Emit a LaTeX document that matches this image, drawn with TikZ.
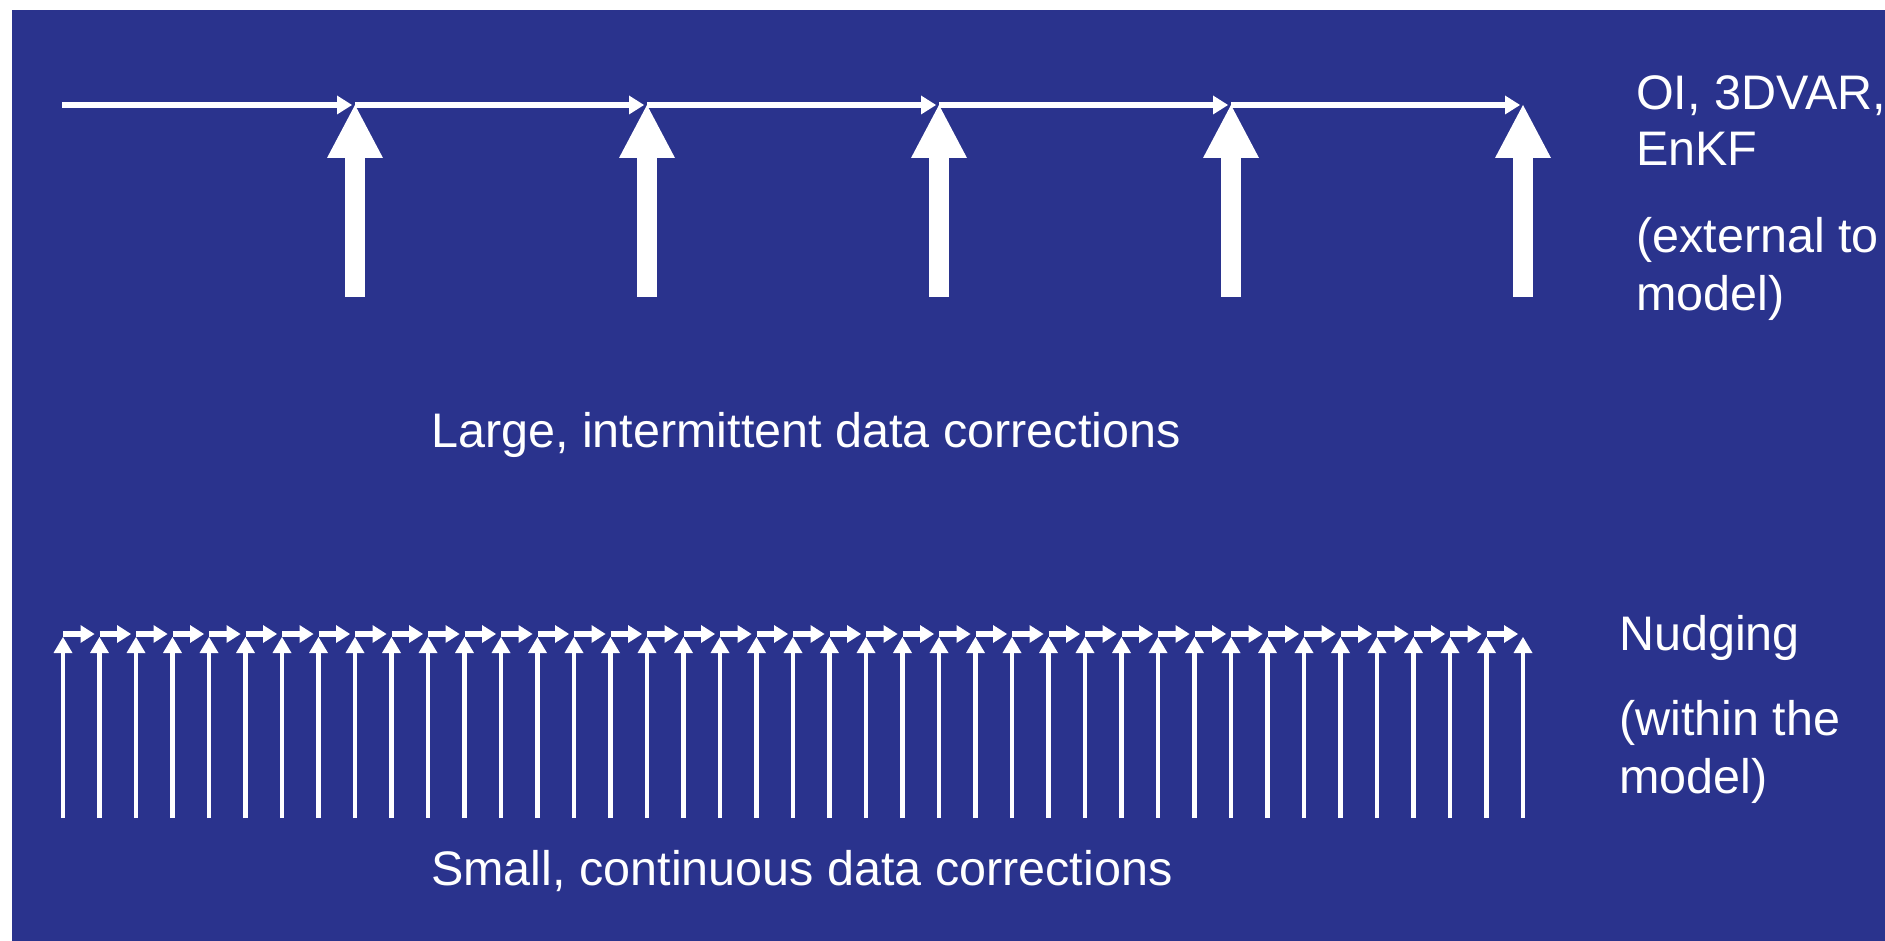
\documentclass[tikz,border=0pt]{standalone}
\usepackage{fontspec}
\setmainfont{Liberation Sans}
\usetikzlibrary{arrows.meta}
\definecolor{bgblue}{RGB}{42,51,141}
\begin{document}
\begin{tikzpicture}[x=1pt,y=-1pt,
  txt/.style={text=white, inner sep=0pt, anchor=base west, font=\fontsize{48.5}{57}\selectfont},
  bigarrow/.style={draw=white, line width=20pt, -{Triangle[width=56pt,length=53pt,line width=0pt]}},
  topline/.style={draw=white, line width=6pt, -{Triangle[width=19pt,length=15pt,line width=0pt]}, shorten >=3pt},
  thinarrow/.style={draw=white, line width=4.5pt, -{Triangle[width=19pt,length=16pt,line width=0pt]}},
  botline/.style={draw=white, line width=5.5pt, -{Triangle[width=18pt,length=14pt,line width=0pt]}, shorten >=5pt}]
\useasboundingbox (0,0) rectangle (1885,941);
\fill[white] (0,0) rectangle (1885,941);
\fill[bgblue] (12,10) rectangle (1885,941);

% top row
\coordinate (t0) at (62,105);
\foreach \i in {1,...,5} {
  \coordinate (t\i) at ({355+292*(\i-1)},105);
  \coordinate (b\i) at ({355+292*(\i-1)},297);
}
\foreach \i [evaluate=\i as \j using int(\i+1)] in {0,...,4} {
  \draw[topline] (t\i) -- (t\j);
}
\foreach \i in {1,...,5} {
  \draw[bigarrow] (b\i) -- (t\i);
}

% bottom row
\foreach \i in {0,...,40} {
  \coordinate (n\i) at ({63+36.5*\i},634);
  \coordinate (v\i) at ({63+36.5*\i},637);
  \coordinate (m\i) at ({63+36.5*\i},818);
}
\foreach \i [evaluate=\i as \j using int(\i+1)] in {0,...,39} {
  \draw[botline] (n\i) -- (n\j);
}
\foreach \i in {0,...,40} {
  \draw[thinarrow] (m\i) -- (v\i);
}

% texts
\node[txt] (large) at (431,447) {Large, intermittent data corrections};
\node[txt] (small) at (431,885) {Small, continuous data corrections};
\node[txt] (oi) at (1636,110) {OI, 3DVAR,};
\node[txt] (enkf) at (1636,166) {EnKF};
\node[txt] (ext) at (1636,253) {(external to};
\node[txt] (model1) at (1636,311) {model)};
\node[txt] (nudg) at (1619,650) {Nudging};
\node[txt] (within) at (1619,735) {(within the};
\node[txt] (model2) at (1619,793) {model)};
\end{tikzpicture}
\end{document}
